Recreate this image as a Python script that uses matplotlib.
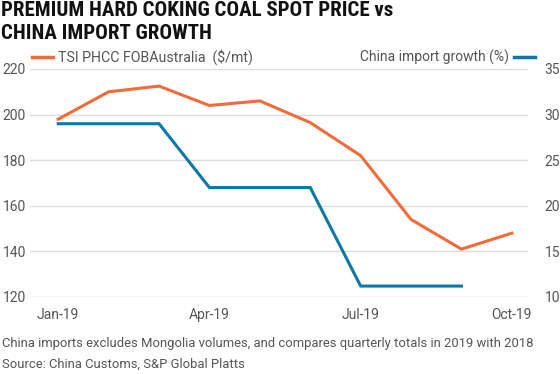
import matplotlib
matplotlib.use("Agg")
import matplotlib.pyplot as plt
from matplotlib.lines import Line2D

plt.rcParams["font.family"] = ["Roboto", "DejaVu Sans"]

# Monthly data, Jan-19 .. Oct-19
months = ["Jan-19", "Feb-19", "Mar-19", "Apr-19", "May-19", "Jun-19",
          "Jul-19", "Aug-19", "Sep-19", "Oct-19"]
price = [198, 210, 212.5, 204, 206, 196.5, 182, 154, 141, 148]
growth = [29, 29, 29, 22, 22, 22, 11.2, 11.2, 11.2]
tick_idx = [0, 3, 6, 9]

ORANGE = "#F26B38"
BLUE = "#0B78A6"
GRID = "#DDDDDD"
TXT = "#555555"

fig = plt.figure(figsize=(5.6, 3.74), dpi=100)
ax = fig.add_axes([30 / 560, 1 - 297 / 374, 498 / 560, 228 / 374])
ax2 = ax.twinx()

x = list(range(len(months)))
ax.plot(x, price, color=ORANGE, linewidth=2.2, solid_joinstyle="miter", zorder=3)
ax2.plot(x[:len(growth)], growth, color=BLUE, linewidth=2.2, solid_joinstyle="miter", zorder=3)

ax.set_xlim(-0.56, 9.32)
ax.set_ylim(120, 220)
ax2.set_ylim(10, 35)
ax.set_yticks([120, 140, 160, 180, 200, 220])
ax2.set_yticks([10, 15, 20, 25, 30, 35])
ax.set_xticks(tick_idx)
ax.set_xticklabels([months[i] for i in tick_idx])

ax.grid(axis="y", color=GRID, linewidth=1)
ax.set_axisbelow(True)
for a in (ax, ax2):
    for s in a.spines.values():
        s.set_visible(False)
    a.tick_params(length=0, labelsize=10, labelcolor=TXT)
ax.tick_params(axis="x", pad=8)
ax.tick_params(axis="y", pad=3)
ax2.tick_params(axis="y", pad=12)

# Title
fig.text(1 / 560, 1 - 1 / 374, "PREMIUM HARD COKING COAL SPOT PRICE vs\nCHINA IMPORT GROWTH",
         ha="left", va="top", fontsize=15, fontweight="bold", color="#111111",
         linespacing=1.25, family=["Roboto Condensed", "Roboto"], fontstretch="condensed")

# Legend
ly = 1 - 57 / 374
fig.add_artist(Line2D([32 / 560, 53 / 560], [ly, ly], color=ORANGE, linewidth=2.5))
fig.text(58 / 560, ly, "TSI PHCC FOBAustralia  ($/mt)", ha="left", va="center",
         fontsize=10.2, color=TXT)
fig.add_artist(Line2D([514 / 560, 535 / 560], [ly, ly], color=BLUE, linewidth=2.5))
fig.text(509 / 560, ly, "China import growth (%)", ha="right", va="center",
         fontsize=10, color=TXT)

# Footnote
fig.text(2 / 560, 1 - 344 / 374,
         "China imports excludes Mongolia volumes, and compares quarterly totals in 2019 with 2018",
         ha="left", va="center", fontsize=9.4, color=TXT)
fig.text(2 / 560, 1 - 364 / 374, "Source: China Customs, S&P Global Platts",
         ha="left", va="center", fontsize=9.4, color=TXT)

fig.savefig("out.png", dpi=100)
